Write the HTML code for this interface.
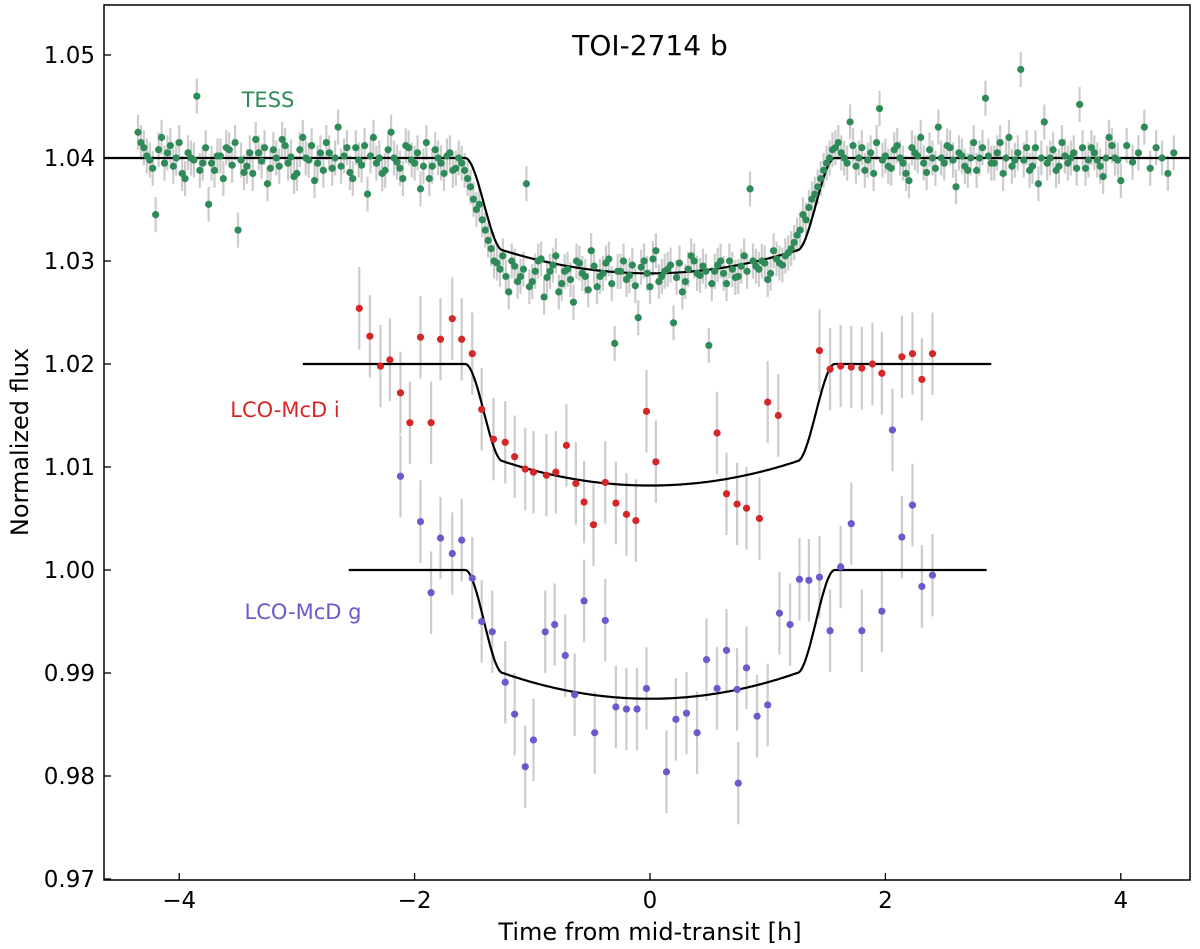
<!DOCTYPE html>
<html><head><meta charset="utf-8"><style>
body{margin:0;background:#fff}
svg{display:block;font-family:"DejaVu Sans","Liberation Sans",sans-serif}
</style></head><body>
<svg id="chart" width="1200" height="949" viewBox="0 0 1200 949" xmlns="http://www.w3.org/2000/svg">
<g id="err"></g>
<g id="models"></g>
<g id="pts"></g>
<rect x="104" y="5" width="1086" height="875" fill="none" stroke="#000" stroke-width="1.5"/>
<g id="axes"></g>
<text x="650" y="55" font-size="28" text-anchor="middle">TOI-2714 b</text>
<text x="268" y="107" font-size="21" fill="#2e8b57" text-anchor="middle">TESS</text>
<text x="285" y="417" font-size="21" fill="#d62728" text-anchor="middle">LCO-McD i</text>
<text x="303" y="619" font-size="21" fill="#6a5acd" text-anchor="middle">LCO-McD g</text>
<text x="650" y="940" font-size="24" text-anchor="middle">Time from mid-transit [h]</text>
<text x="28" y="442" font-size="24" text-anchor="middle" transform="rotate(-90 28 442)">Normalized flux</text>
</svg>
<script>
const xTicks=[-4,-2,0,2,4];
const xTickLabels=["−4","−2","0","2","4"];
const yTicks=[0.97,0.98,0.99,1.00,1.01,1.02,1.03,1.04,1.05];
const yTickLabels=["0.97","0.98","0.99","1.00","1.01","1.02","1.03","1.04","1.05"];
const tessStart=-4.35, tessStep=0.05;
const tessFlux=[
1.0425,1.0410,1.0398,1.0345,1.0420,1.0405,1.0392,1.0415,1.0380,1.0400,
1.0460,1.0395,1.0355,1.0388,1.0402,1.0410,1.0393,1.0330,1.0386,1.0405,
1.0418,1.0397,1.0375,1.0408,1.0392,1.0412,1.0401,1.0385,1.0420,1.0398,
1.0378,1.0405,1.0415,1.0390,1.0430,1.0402,1.0386,1.0410,1.0393,1.0365,
1.0420,1.0400,1.0388,1.0425,1.0396,1.0380,1.0410,1.0395,1.0370,1.0415,
1.0392,1.0400,1.0385,1.0405,1.0390,
1.0395,1.0380,1.0360,1.0355,1.0330,1.0312,1.0298,1.0305,
1.0270,1.0295,1.0285,1.0375,1.0280,1.0300,1.0265,1.0290,1.0305,1.0278,
1.0292,1.0260,1.0298,1.0285,1.0310,1.0275,1.0288,1.0302,1.0220,1.0290,
1.0282,1.0296,1.0245,1.0300,1.0275,1.0310,1.0285,1.0292,1.0240,1.0298,
1.0280,1.0305,1.0288,1.0295,1.0218,1.0290,1.0300,1.0278,1.0292,1.0285,
1.0305,1.0370,1.0295,1.0300,1.0282,1.0310,1.0298,1.0305,
1.0312,1.0325,1.0345,1.0352,1.0365,1.0380,1.0395,1.0408,
1.0415,1.0400,1.0435,1.0392,1.0410,1.0398,1.0385,1.0448,1.0402,1.0390,
1.0412,1.0395,1.0378,1.0405,1.0420,1.0386,1.0400,1.0430,1.0395,1.0410,
1.0372,1.0402,1.0388,1.0415,1.0400,1.0458,1.0395,1.0405,1.0385,1.0420,
1.0398,1.0486,1.0410,1.0392,1.0375,1.0435,1.0400,1.0388,1.0415,1.0395,
1.0405,1.0452,1.0390,1.0410,1.0398,1.0382,1.0420,1.0400,1.0378,1.0412,
1.0396,1.0405,1.0430,1.0390,1.0410,1.0400,1.0385,1.0405];
const tessStart2=-4.325;
const tessFlux2=[
1.0415,1.0402,1.0390,1.0408,1.0395,1.0412,1.0400,1.0385,1.0405,1.0398,
1.0388,1.0410,1.0395,1.0402,1.0380,1.0408,1.0415,1.0398,1.0392,1.0385,
1.0405,1.0410,1.0390,1.0400,1.0418,1.0395,1.0382,1.0408,1.0400,1.0412,
1.0395,1.0388,1.0405,1.0400,1.0392,1.0410,1.0380,1.0398,1.0412,1.0402,
1.0395,1.0385,1.0408,1.0400,1.0390,1.0412,1.0398,1.0405,1.0392,1.0380,
1.0408,1.0395,1.0402,1.0388,1.0400,
1.0388,1.0372,1.0350,1.0340,1.0320,1.0300,1.0292,1.0285,
1.0300,1.0280,1.0292,1.0275,1.0290,1.0302,1.0284,1.0296,1.0270,1.0290,
1.0282,1.0300,1.0288,1.0272,1.0295,1.0285,1.0298,1.0278,1.0290,1.0300,
1.0286,1.0276,1.0294,1.0288,1.0302,1.0280,1.0290,1.0296,1.0284,1.0270,
1.0292,1.0300,1.0286,1.0290,1.0278,1.0296,1.0288,1.0300,1.0284,1.0295,
1.0290,1.0300,1.0292,1.0298,1.0288,1.0302,1.0296,1.0308,
1.0318,1.0330,1.0340,1.0360,1.0372,1.0388,1.0400,1.0410,
1.0405,1.0395,1.0412,1.0400,1.0388,1.0405,1.0415,1.0398,1.0392,1.0408,
1.0400,1.0385,1.0410,1.0402,1.0395,1.0408,1.0390,1.0400,1.0412,1.0398,
1.0405,1.0392,1.0400,1.0388,1.0410,1.0402,1.0395,1.0415,1.0400,1.0392,
1.0405,1.0398,1.0388,1.0410,1.0400,1.0395,1.0408,1.0392,1.0402,1.0400,
1.0390,1.0410,1.0398,1.0405,1.0392,1.0400,1.0412,1.0398];
const iTime=[-2.47,-2.38,-2.29,-2.21,-2.12,-2.04,-1.95,-1.86,-1.78,-1.68,-1.60,-1.51,-1.43,-1.33,-1.23,-1.15,-1.06,-0.99,-0.88,-0.80,-0.71,-0.63,-0.56,-0.48,-0.38,-0.29,-0.20,-0.12,-0.03,0.05,0.57,0.65,0.74,0.82,0.93,1.00,1.09,1.44,1.53,1.62,1.71,1.80,1.89,1.97,2.14,2.23,2.31,2.40];
const iFlux=[1.0254,1.0227,1.0198,1.0204,1.0172,1.0143,1.0226,1.0143,1.0224,1.0244,1.0224,1.0210,1.0156,1.0127,1.0124,1.0110,1.0098,1.0095,1.0092,1.0095,1.0121,1.0084,1.0066,1.0044,1.0085,1.0065,1.0054,1.0048,1.0154,1.0105,1.0133,1.0074,1.0064,1.0060,1.0050,1.0163,1.0150,1.0213,1.0195,1.0198,1.0197,1.0196,1.0200,1.0191,1.0207,1.0210,1.0185,1.0210];
const gTime=[-2.12,-1.95,-1.86,-1.78,-1.68,-1.60,-1.51,-1.43,-1.34,-1.23,-1.15,-1.06,-0.99,-0.89,-0.81,-0.72,-0.64,-0.56,-0.47,-0.38,-0.29,-0.20,-0.11,-0.03,0.14,0.22,0.31,0.40,0.48,0.57,0.65,0.74,0.75,0.82,0.91,1.00,1.10,1.19,1.27,1.35,1.44,1.53,1.62,1.71,1.80,1.97,2.06,2.14,2.23,2.31,2.40];
const gFlux=[1.0091,1.0047,0.9978,1.0031,1.0016,1.0029,0.9992,0.9950,0.9940,0.9891,0.9860,0.9809,0.9835,0.9940,0.9947,0.9917,0.9879,0.9970,0.9842,0.9951,0.9867,0.9865,0.9865,0.9885,0.9804,0.9855,0.9861,0.9842,0.9913,0.9885,0.9922,0.9884,0.9793,0.9905,0.9858,0.9869,0.9958,0.9947,0.9991,0.9990,0.9993,0.9941,1.0003,1.0045,0.9941,0.9960,1.0136,1.0032,1.0063,0.9984,0.9995];
const errTess=[0.0017], errLco=[0.0040];
const modelBase=[1.04,1.02,1.00];
const modelDepth=[0.0112,0.0118,0.0125];
const modelStart=[-4.64,-2.95,-2.56];
const modelEnd=[4.59,2.90,2.86];

const NS="http://www.w3.org/2000/svg";
const X=t=>650+t*117.7;
const Y=f=>570-(f-1.0)*10300;
function mk(tag,attrs,parent){const e=document.createElementNS(NS,tag);for(const k in attrs)e.setAttribute(k,attrs[k]);parent.appendChild(e);return e;}
const gErr=document.getElementById('err'),gPts=document.getElementById('pts'),gMod=document.getElementById('models'),gAx=document.getElementById('axes');

function series(times,flux,err,color,name){
  times.forEach((t,i)=>{
    const l=mk('line',{x1:X(t),x2:X(t),y1:Y(flux[i]-err),y2:Y(flux[i]+err),stroke:'#cccccc','stroke-width':2.2},gErr);
    
    
    const c=mk('circle',{cx:X(t),cy:Y(flux[i]),r:3.6,fill:color},gPts);
    
    
  });
}
const tessTime=tessFlux.map((_,i)=>tessStart+i*tessStep);
const tessTime2=tessFlux2.map((_,i)=>tessStart2+i*tessStep);
series(tessTime,tessFlux,errTess[0],'#2e8b57','tess');
series(tessTime2,tessFlux2,errTess[0],'#2e8b57','tess');
series(iTime,iFlux,errLco[0],'#d62728','lco-i');
series(gTime,gFlux,errLco[0],'#6a5acd','lco-g');

function shape(t){
  const a=Math.abs(t),T1=1.25,T2=1.57;
  if(a>=T2)return 0;
  const inner=1-0.2*Math.min(a/T1,1)**2;
  if(a<=T1)return inner;
  const s=(a-T1)/(T2-T1);
  const k=1-s*s*(3-2*s);
  return 0.8*k;
}
const modelNames=['model-tess','model-lco-i','model-lco-g'];
modelBase.forEach((b,j)=>{
  let d='';
  for(let t=modelStart[j];t<=modelEnd[j]+1e-9;t+=0.01){
    d+=(d?'L':'M')+X(t).toFixed(1)+','+Y(b-modelDepth[j]*shape(t)).toFixed(1);
  }
  const p=mk('path',{d:d,fill:'none',stroke:'#000','stroke-width':2.2},gMod);
  
  
});

xTicks.forEach((v,i)=>{
  const x=X(v);
  const l=mk('line',{x1:x,x2:x,y1:880,y2:873,stroke:'#000','stroke-width':1.3},gAx);
  
  
  const tx=mk('text',{x:x,y:908,'font-size':23,'text-anchor':'middle'},gAx);
  tx.textContent=xTickLabels[i];
  
  
});
yTicks.forEach((v,i)=>{
  const y=Y(v);
  const l=mk('line',{x1:104,x2:111,y1:y,y2:y,stroke:'#000','stroke-width':1.3},gAx);
  
  
  const tx=mk('text',{x:95,y:y+8,'font-size':23,'text-anchor':'end'},gAx);
  tx.textContent=yTickLabels[i];
  
  
});
</script>
</body></html>
